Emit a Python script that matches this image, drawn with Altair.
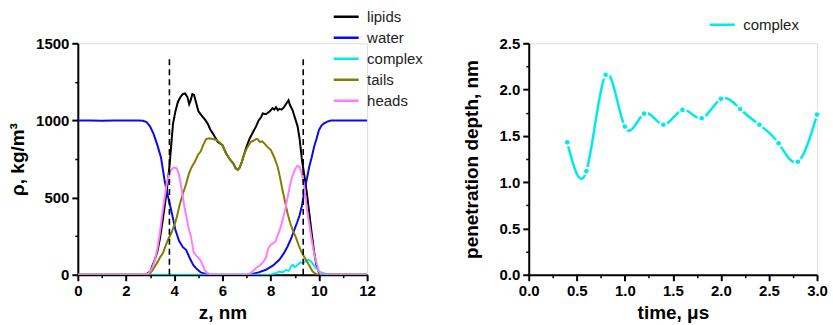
import altair as alt
import pandas as pd

# ---------------- left panel: density profiles ----------------
series_names = ["lipids", "water", "complex", "tails", "heads"]
series_colors = ["#000000", "#0a0af0", "#00eaea", "#808000", "#ff7cff"]

lipids_z = [0, 2.8, 3.0, 3.1, 3.2, 3.3, 3.4, 3.5, 3.6, 3.7, 3.8, 3.88, 3.95, 4.05, 4.15, 4.25, 4.35,
            4.45, 4.55, 4.62, 4.68, 4.75, 4.82, 4.9, 5.0, 5.1, 5.2, 5.3, 5.4, 5.5, 5.6, 5.7, 5.8,
            6.0, 6.15, 6.3, 6.45, 6.55, 6.63, 6.7, 6.8, 6.91, 7.0, 7.12, 7.25, 7.39, 7.5, 7.6, 7.67,
            7.8, 7.94, 8.0, 8.08, 8.15, 8.22, 8.3, 8.36, 8.45, 8.56, 8.65, 8.74, 8.8, 8.91, 9.0,
            9.12, 9.2, 9.3, 9.4, 9.5, 9.6, 9.7, 9.8, 9.9, 10.0, 10.1, 12]
lipids_v = [0, 0, 20, 60, 100, 150, 230, 330, 440, 560, 700, 850, 980, 1060, 1120, 1150, 1170,
            1175, 1150, 1105, 1130, 1170, 1165, 1120, 1060, 1040, 1020, 1000, 975, 940, 915, 890, 862,
            840, 786, 750, 720, 690, 680, 690, 730, 786, 830, 880, 920, 960, 1000, 1020, 1045,
            1040, 1056, 1065, 1080, 1070, 1085, 1066, 1075, 1070, 1088, 1110, 1131, 1100, 1066, 1020,
            959, 880, 740, 640, 530, 400, 270, 150, 60, 15, 0, 0]

water_z = [0, 0.5, 1.0, 1.5, 2.0, 2.5, 2.7, 2.85, 3.0, 3.15, 3.3, 3.45, 3.6, 3.75, 3.9, 4.05, 4.2,
           4.35, 4.5, 4.65, 4.8, 4.95, 5.1, 5.3, 5.5, 6.0, 6.5, 7.0, 7.25, 7.5, 7.8, 8.1, 8.36, 8.55,
           8.7, 8.85, 8.98, 9.1, 9.2, 9.3, 9.4, 9.5, 9.6, 9.7, 9.8, 9.9, 10.0, 10.1, 10.2, 10.35,
           10.5, 11.0, 11.5, 12.0]
water_v = [1000, 1000, 998, 1000, 999, 1000, 998, 990, 960, 910, 840, 760, 610, 500, 400, 290, 220,
           180, 160, 105, 60, 35, 15, 5, 0, 0, 0, 0, 5, 15, 32, 60, 97, 140,
           183, 235, 291, 340, 385, 450, 549, 620, 700, 760, 829, 880, 937, 965, 980, 992,
           1000, 1000, 1000, 1000]

complex_z = [0, 8.0, 8.2, 8.36, 8.5, 8.63, 8.75, 8.85, 8.91, 9.0, 9.05, 9.15, 9.25, 9.35, 9.45,
             9.55, 9.65, 9.75, 9.85, 10.0, 10.15, 10.3, 10.5, 10.7, 12]
complex_v = [0, 0, 10, 21, 15, 32, 25, 55, 65, 50, 55, 70, 80, 75, 90,
             97, 90, 70, 50, 21, 12, 5, 3, 0, 0]

tails_z = [0, 2.9, 3.0, 3.1, 3.2, 3.3, 3.4, 3.53, 3.65, 3.75, 3.88, 4.0, 4.1, 4.22, 4.35, 4.5, 4.6,
           4.7, 4.77, 4.85, 4.98, 5.1, 5.2, 5.32, 5.45, 5.6, 5.73, 5.85, 6.0, 6.15, 6.3, 6.45, 6.55,
           6.63, 6.7, 6.8, 6.91, 7.05, 7.18, 7.3, 7.4, 7.46, 7.55, 7.65, 7.74, 7.85, 8.01, 8.15,
           8.29, 8.4, 8.49, 8.6, 8.7, 8.8, 8.91, 9.05, 9.18, 9.3, 9.46, 9.6, 9.74, 9.85, 9.94, 12]
tails_v = [0, 0, 10, 30, 55, 80, 110, 140, 190, 230, 270, 320, 370, 450, 520, 593, 650,
           690, 711, 730, 776, 800, 840, 879, 885, 880, 875, 862, 840, 786, 750, 720, 690,
           680, 690, 730, 786, 830, 862, 870, 880, 879, 860, 865, 851, 830, 808, 760,
           700, 620, 549, 470, 399, 340, 291, 240, 183, 140, 97, 60, 21, 8, 0, 0]

heads_z = [0, 2.8, 2.95, 3.1, 3.2, 3.3, 3.4, 3.5, 3.6, 3.7, 3.8, 3.9, 4.0, 4.1, 4.2, 4.3, 4.4, 4.5,
           4.6, 4.7, 4.8, 4.9, 5.0, 5.1, 5.2, 5.3, 5.45, 5.6, 7.0, 7.1, 7.25, 7.4, 7.55, 7.7, 7.8,
           7.9, 8.0, 8.1, 8.2, 8.3, 8.4, 8.5, 8.6, 8.7, 8.8, 8.9, 9.0, 9.1, 9.2, 9.3, 9.4, 9.5,
           9.6, 9.7, 9.8, 9.9, 10.0, 10.1, 12]
heads_v = [0, 0, 10, 50, 97, 170, 270, 390, 500, 600, 660, 685, 695, 690, 650, 560, 460, 380,
           300, 240, 150, 125, 110, 90, 55, 20, 5, 0, 0, 5, 20, 45, 60, 85, 110,
           170, 195, 205, 215, 260, 300, 360, 420, 500, 580, 640, 680, 705, 700, 650, 560, 430,
           330, 226, 140, 76, 25, 0, 0]

dash_z = [3.8, 9.35]
dash_top = [1420, 1420]

left_x_major = [0, 2, 4, 6, 8, 10, 12]
left_x_minor = [1, 3, 5, 7, 9, 11]
left_y_major = [0, 500, 1000, 1500]
left_y_minor = [250, 750, 1250]

# ---------------- right panel: penetration depth ----------------
time_us = [0.4, 0.6, 0.8, 1.0, 1.2, 1.4, 1.6, 1.8, 2.0, 2.2, 2.4, 2.6, 2.8, 3.0]
depth_nm = [1.43, 1.12, 2.16, 1.60, 1.74, 1.62, 1.78, 1.69, 1.90, 1.79, 1.62, 1.42, 1.22, 1.73]

right_x_major = [0.0, 0.5, 1.0, 1.5, 2.0, 2.5, 3.0]
right_x_minor = [0.25, 0.75, 1.25, 1.75, 2.25, 2.75]
right_y_major = [0.0, 0.5, 1.0, 1.5, 2.0, 2.5]
right_y_minor = [0.25, 0.75, 1.25, 1.75, 2.25]

FONT = "Liberation Sans"
CYAN = "#00eaea"

frames = {
    "lipids": (lipids_z, lipids_v),
    "water": (water_z, water_v),
    "complex": (complex_z, complex_v),
    "tails": (tails_z, tails_v),
    "heads": (heads_z, heads_v),
}
dfs = {k: pd.DataFrame({"z": z, "rho": v, "series": k}) for k, (z, v) in frames.items()}
dash_df = pd.DataFrame({"z": dash_z, "top": dash_top, "bottom": [0, 0]})

xs = alt.Scale(domain=[0, 12], nice=False)
ys = alt.Scale(domain=[0, 1500], nice=False)
cs = alt.Scale(domain=series_names, range=series_colors)


def major_axis(values, title, orient, fmt, tpad):
    return alt.Axis(values=values, title=title, orient=orient, format=fmt, tickSize=6, tickWidth=2,
                    domainWidth=2, domainColor="black", tickColor="black", labelFont=FONT,
                    labelFontSize=15, labelFontWeight="bold", labelColor="black", labelPadding=3,
                    titleFont=FONT, titleFontSize=19, titleFontWeight="bold", titleColor="black",
                    titlePadding=tpad, grid=False, labelFlush=False, labelOverlap=False)


def minor_axis(values, orient):
    return alt.Axis(values=values, title="", orient=orient, labels=False, domain=False, tickSize=3,
                    tickWidth=1.5, tickColor="black", grid=False)


left_layers = []
for i, name in enumerate(series_names):
    leg = None
    if i == 0:
        leg = alt.Legend(orient="none", legendX=255, legendY=-35, title=None, symbolType="stroke",
                         symbolSize=625, symbolStrokeWidth=2.5, labelFont=FONT, labelFontSize=15,
                         labelColor="#222222", clipHeight=17, rowPadding=4, padding=0, labelOffset=7)
    left_layers.append(
        alt.Chart(dfs[name]).mark_line(strokeWidth=2, clip=True).encode(
            x=alt.X("z:Q", scale=xs, axis=None),
            y=alt.Y("rho:Q", scale=ys, axis=None),
            color=alt.Color("series:N", scale=cs, legend=leg),
        )
    )

dash_layer = alt.Chart(dash_df).mark_rule(color="black", strokeWidth=1.6, strokeDash=[6, 4]).encode(
    x=alt.X("z:Q", scale=xs, axis=None),
    y=alt.Y("bottom:Q", scale=ys, axis=None),
    y2="top:Q",
)

left_major = alt.Chart(dfs["water"]).mark_point(opacity=0).encode(
    x=alt.X("z:Q", scale=xs, axis=major_axis(left_x_major, "z, nm", "bottom", "d", 5)),
    y=alt.Y("rho:Q", scale=ys, axis=major_axis(left_y_major, "ρ, kg/m³", "left", "d", 8)),
)
left_minor = alt.Chart(dfs["water"]).mark_point(opacity=0).encode(
    x=alt.X("z:Q", scale=xs, axis=minor_axis(left_x_minor, "bottom")),
    y=alt.Y("rho:Q", scale=ys, axis=minor_axis(left_y_minor, "left")),
)

left = alt.layer(left_major, left_minor, *left_layers, dash_layer).resolve_axis(
    x="independent", y="independent"
).properties(width=290, height=232)

# right panel
rdf = pd.DataFrame({"t": time_us, "d": depth_nm, "series": "complex"})
rxs = alt.Scale(domain=[0, 3], nice=False)
rys = alt.Scale(domain=[0, 2.5], nice=False)
rcs = alt.Scale(domain=["complex"], range=[CYAN])

r_line = alt.Chart(rdf).mark_line(interpolate="natural", strokeWidth=2.5).encode(
    x=alt.X("t:Q", scale=rxs, axis=None),
    y=alt.Y("d:Q", scale=rys, axis=None),
    color=alt.Color("series:N", scale=rcs,
                    legend=alt.Legend(orient="none", legendX=180, legendY=-27, title=None,
                                      symbolType="stroke", symbolSize=625, symbolStrokeWidth=2.5,
                                      labelFont=FONT, labelFontSize=15, labelColor="#222222",
                                      clipHeight=17, padding=0, labelOffset=7)),
)
r_gap = alt.Chart(rdf).mark_point(filled=True, size=70, opacity=1, color="white").encode(
    x=alt.X("t:Q", scale=rxs, axis=None),
    y=alt.Y("d:Q", scale=rys, axis=None),
)
r_dot = alt.Chart(rdf).mark_point(filled=True, size=22, opacity=1, color=CYAN).encode(
    x=alt.X("t:Q", scale=rxs, axis=None),
    y=alt.Y("d:Q", scale=rys, axis=None),
)
r_major = alt.Chart(rdf).mark_point(opacity=0).encode(
    x=alt.X("t:Q", scale=rxs, axis=major_axis(right_x_major, "time, μs", "bottom", ".1f", 5)),
    y=alt.Y("d:Q", scale=rys, axis=major_axis(right_y_major, "penetration depth, nm", "left", ".1f", 18)),
)
r_minor = alt.Chart(rdf).mark_point(opacity=0).encode(
    x=alt.X("t:Q", scale=rxs, axis=minor_axis(right_x_minor, "bottom")),
    y=alt.Y("d:Q", scale=rys, axis=minor_axis(right_y_minor, "left")),
)
right = alt.layer(r_major, r_minor, r_line, r_gap, r_dot).resolve_axis(
    x="independent", y="independent"
).properties(width=289, height=232)

chart = alt.hconcat(left, right, spacing=37).resolve_scale(color="independent").properties(
    padding={"left": 8, "top": 7, "right": 5, "bottom": 0}
).configure_view(stroke=None).configure(background="white")

chart.save("out.html", embed_options={"renderer": "svg", "actions": False})
